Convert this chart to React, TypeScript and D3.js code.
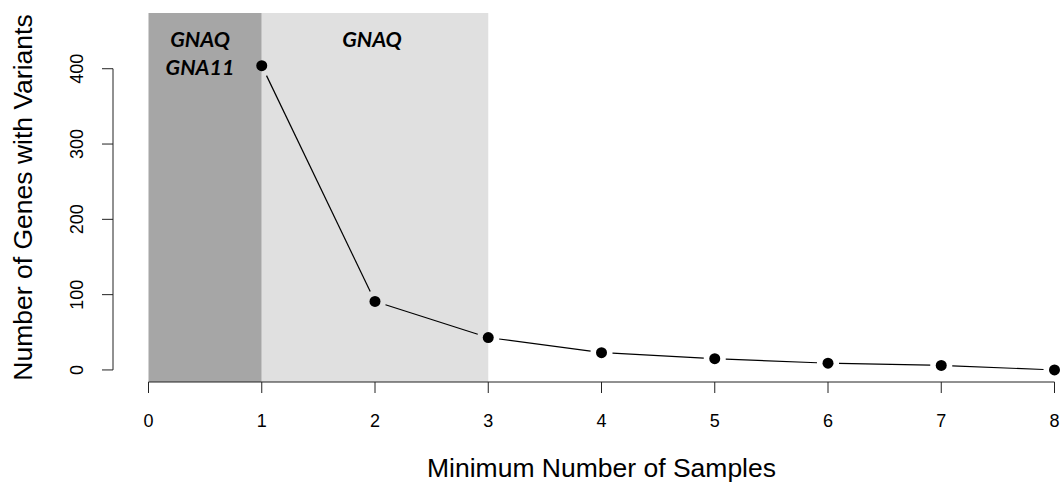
import React, { useEffect, useRef } from "react";
import * as d3 from "d3";

// values
const minSamples = [1, 2, 3, 4, 5, 6, 7, 8];
const geneCounts = [404, 91, 43, 23, 15, 9, 6, 0];
const xTicks = [0, 1, 2, 3, 4, 5, 6, 7, 8];
const yTicks = [0, 100, 200, 300, 400];
// shaded bands: [from, to, colour, labels]
const bandStart = [0, 1];
const bandEnd = [1, 3];
const bandFill = ["#a6a6a6", "#e0e0e0"];
const bandLabels = [["GNAQ", "GNA11"], ["GNAQ"]];

const W = 1063, H = 484;
const plot = { left: 148.5, right: 1054.5, top: 13, bottom: 382 };

export default function App() {
  const ref = useRef<SVGSVGElement>(null);

  useEffect(() => {
    const svg = d3.select(ref.current);
    svg.selectAll("*").remove();

    const x = d3.scaleLinear().domain([0, 8]).range([plot.left, plot.right]);
    const y = d3.scaleLinear().domain([-16, 474]).range([plot.bottom, plot.top]);

    // background bands
    svg.append("g").selectAll("rect")
      .data(bandStart)
      .join("rect")
      .attr("x", (d) => x(d))
      .attr("width", (d, i) => x(bandEnd[i]) - x(d))
      .attr("y", plot.top)
      .attr("height", plot.bottom - plot.top)
      .attr("fill", (d, i) => bandFill[i]);

    // band labels
    const lab = svg.append("g")
      .attr("font-family", "Lato, 'Open Sans', sans-serif")
      .attr("font-weight", "bold")
      .attr("font-style", "italic")
      .attr("font-size", 21.5)
      .attr("text-anchor", "middle");
    bandLabels.forEach((lines, i) => {
      const cx = i === 0 ? x(bandStart[i] + 0.455) : x((bandStart[i] + bandEnd[i]) / 2) - 3;
      lines.forEach((t, j) => {
        lab.append("text").attr("x", cx).attr("y", 47 + j * 28).text(t);
      });
    });

    // x axis
    const xa = svg.append("g").attr("stroke", "#222").attr("fill", "none");
    xa.append("line").attr("x1", x(0)).attr("x2", x(8)).attr("y1", plot.bottom).attr("y2", plot.bottom);
    xa.selectAll("line.t").data(xTicks).join("line").attr("class", "t")
      .attr("x1", (d) => x(d)).attr("x2", (d) => x(d))
      .attr("y1", plot.bottom).attr("y2", plot.bottom + 11);
    svg.append("g")
      .attr("font-family", "'Liberation Sans', Arial, sans-serif")
      .attr("font-size", 18)
      .attr("text-anchor", "middle")
      .selectAll("text").data(xTicks).join("text")
      .attr("x", (d) => x(d)).attr("y", 427)
      .text((d) => d);

    // y axis
    const axX = 113;
    const ya = svg.append("g").attr("stroke", "#222").attr("fill", "none");
    ya.append("line").attr("x1", axX).attr("x2", axX).attr("y1", y(0)).attr("y2", y(400));
    ya.selectAll("line.t").data(yTicks).join("line").attr("class", "t")
      .attr("x1", axX).attr("x2", axX - 11)
      .attr("y1", (d) => y(d)).attr("y2", (d) => y(d));
    svg.append("g")
      .attr("font-family", "'Liberation Sans', Arial, sans-serif")
      .attr("font-size", 18)
      .attr("text-anchor", "middle")
      .selectAll("text").data(yTicks).join("text")
      .attr("transform", (d) => `translate(83,${y(d)}) rotate(-90)`)
      .text((d) => d);

    // axis titles
    svg.append("text")
      .attr("x", (plot.left + plot.right) / 2).attr("y", 477)
      .attr("font-family", "'Liberation Sans', Arial, sans-serif")
      .attr("font-size", 26.5).attr("text-anchor", "middle")
      .text("Minimum Number of Samples");
    svg.append("text")
      .attr("transform", `translate(32,${(plot.top + plot.bottom) / 2}) rotate(-90)`)
      .attr("font-family", "'Liberation Sans', Arial, sans-serif")
      .attr("font-size", 26.5).attr("text-anchor", "middle")
      .text("Number of Genes with Variants");

    // line segments with gaps around points (like type="b")
    const pts = minSamples.map((m, i) => [x(m), y(geneCounts[i])]);
    const gap = 11;
    const segs = d3.pairs(pts).map(([a, b]) => {
      const dx = b[0] - a[0], dy = b[1] - a[1];
      const len = Math.hypot(dx, dy);
      const ux = dx / len, uy = dy / len;
      return [a[0] + ux * gap, a[1] + uy * gap, b[0] - ux * gap, b[1] - uy * gap];
    });
    svg.append("g").selectAll("line").data(segs).join("line")
      .attr("x1", (d) => d[0]).attr("y1", (d) => d[1])
      .attr("x2", (d) => d[2]).attr("y2", (d) => d[3])
      .attr("stroke", "black").attr("stroke-width", 1.2);

    svg.append("g").selectAll("circle").data(pts).join("circle")
      .attr("cx", (d) => d[0]).attr("cy", (d) => d[1])
      .attr("r", 5.5).attr("fill", "black");
  }, []);

  return (
    <svg
      ref={ref}
      width={W}
      height={H}
      style={{ position: "absolute", left: 0, top: 0, background: "white" }}
    />
  );
}
